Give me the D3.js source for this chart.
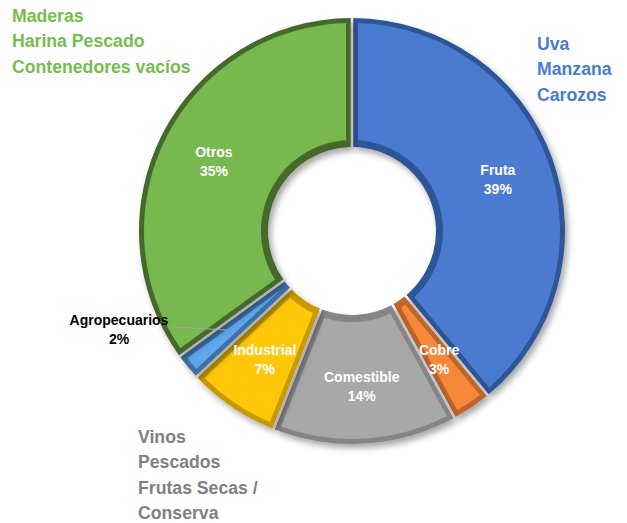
<!DOCTYPE html>
<html><head><meta charset="utf-8">
<script src="https://cdn.jsdelivr.net/npm/d3@7"></script>
<style>body{margin:0;background:#fff}svg{display:block}</style>
</head><body>
<script>
const categories = ["Fruta","Cobre","Comestible","Industrial","Agropecuarios","Otros"];
const values = [39,3,14,7,2,35];
const colors = ["#4a7bd1","#f6883a","#a8a8a8","#ffc80a","#5ea7ea","#77b84f"];
const darkColors = ["#2f5597","#c0652a","#858585","#c79a00","#3c70a5","#44692c"];
const groupTexts = [
  {lines:["Maderas","Harina Pescado","Contenedores vacíos"], color:"#78bc4f", x:12, y:22},
  {lines:["Uva","Manzana","Carozos"], color:"#4a7bd1", x:537, y:50},
  {lines:["Vinos","Pescados","Frutas Secas /","Conserva"], color:"#808080", x:138, y:443}
];

const W=627,H=523, cx=352, cy=231, R=213, r0=84;
const svg=d3.select("body").append("svg").attr("width",W).attr("height",H);
const defs=svg.append("defs");
const f=defs.append("filter").attr("id","sh").attr("x","-20%").attr("y","-20%").attr("width","140%").attr("height","140%");
f.append("feDropShadow").attr("dx",3).attr("dy",4).attr("stdDeviation",3).attr("flood-color","#000").attr("flood-opacity",0.35);

const pie=d3.pie().sort(null).value(d=>d)(values);
const g=svg.append("g").attr("transform",`translate(${cx},${cy})`);
const outer=d3.arc().innerRadius(r0).outerRadius(R).padAngle(0.012).padRadius(R);
const inner=d3.arc().innerRadius(r0+7).outerRadius(R-5).padAngle(0.06).padRadius(200);
const sl=g.selectAll("g.s").data(pie).join("g").attr("class","s");
sl.append("path").attr("d",outer).attr("fill",(d,i)=>darkColors[i]).attr("filter","url(#sh)");
sl.append("path").attr("d",inner).attr("fill",(d,i)=>colors[i]);

const lab=d3.arc().innerRadius(155).outerRadius(155);
const fs=14;
pie.forEach((d,i)=>{
  const [x,y]=lab.centroid(d);
  if(categories[i]==="Agropecuarios"){
    g.append("line").attr("x1",-179).attr("y1",96).attr("x2",-125).attr("y2",99)
      .attr("stroke","#a6a6a6").attr("stroke-width",1);
    const t=svg.append("text").attr("x",119).attr("y",325).attr("text-anchor","middle")
      .attr("font-family","Liberation Sans, Arial, sans-serif").attr("font-weight","bold")
      .attr("font-size",fs).attr("fill","#000");
    t.append("tspan").attr("x",119).attr("dy",0).text(categories[i]);
    t.append("tspan").attr("x",119).attr("dy",19).text(values[i]+"%");
    return;
  }
  const t=g.append("text").attr("text-anchor","middle")
    .attr("font-family","Liberation Sans, Arial, sans-serif").attr("font-weight","bold")
    .attr("font-size",fs).attr("fill","#fff");
  t.append("tspan").attr("x",x).attr("y",y-4).text(categories[i]);
  t.append("tspan").attr("x",x).attr("y",y+15).text(values[i]+"%");
});

groupTexts.forEach(gt=>{
  const t=svg.append("g").attr("transform",`translate(${gt.x},0) scale(0.93,1)`)
    .append("text").attr("font-family","Liberation Sans, Arial, sans-serif")
    .attr("font-weight","bold").attr("font-size",19).attr("fill",gt.color);
  gt.lines.forEach((l,k)=>t.append("tspan").attr("x",0).attr("y",gt.y+k*25.3).text(l));
});
</script>
</body></html>
